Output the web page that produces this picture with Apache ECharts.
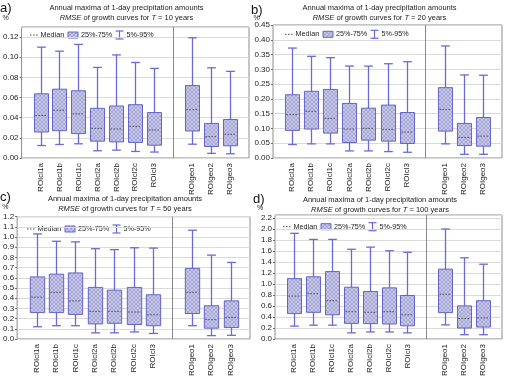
<!DOCTYPE html>
<html>
<head>
<meta charset="utf-8">
<script src="https://cdn.jsdelivr.net/npm/echarts@6/dist/echarts.min.js"></script>
<style>
  html, body { margin: 0; padding: 0; background: #fff; }
  #chart { width: 506px; height: 379px; }
</style>
</head>
<body>
<div id="chart"></div>
<script>
// category slots: blank pad, 7 ROIcl, blank separator slot, 3 ROIgeo, blank pad
const categories = [' ', 'ROIcl1a', 'ROIcl1b', 'ROIcl1c', 'ROIcl2a', 'ROIcl2b', 'ROIcl2c', 'ROIcl3',
  '  ', 'ROIgeo1', 'ROIgeo2', 'ROIgeo3', '   '];
const slotIndex = [1, 2, 3, 4, 5, 6, 7, 9, 10, 11];

// each row: [5%, 25%, median, 75%, 95%]
const rmse10 = [
  [0.0124, 0.0258, 0.0422, 0.0637, 0.110],
  [0.0134, 0.0271, 0.0474, 0.0683, 0.106],
  [0.0141, 0.0242, 0.0438, 0.0667, 0.1127],
  [0.0072, 0.0167, 0.0294, 0.0493, 0.0899],
  [0.0078, 0.0160, 0.0288, 0.0516, 0.1023],
  [0.0065, 0.0154, 0.0314, 0.0529, 0.0948],
  [0.0059, 0.0127, 0.0278, 0.0451, 0.0889],
  [0.0137, 0.0268, 0.0480, 0.0719, 0.1193],
  [0.0046, 0.0114, 0.0212, 0.0343, 0.0895],
  [0.0042, 0.0121, 0.0235, 0.0382, 0.0860]
];
const rmse20 = [
  [0.0456, 0.0934, 0.147, 0.214, 0.372],
  [0.0478, 0.098, 0.158, 0.2256, 0.344],
  [0.0478, 0.0843, 0.134, 0.232, 0.3395],
  [0.0239, 0.0524, 0.098, 0.1846, 0.311],
  [0.0239, 0.0604, 0.1002, 0.1686, 0.311],
  [0.0216, 0.057, 0.0968, 0.179, 0.319],
  [0.0194, 0.049, 0.0877, 0.1538, 0.3258],
  [0.0478, 0.091, 0.164, 0.238, 0.379],
  [0.0125, 0.042, 0.0695, 0.117, 0.281],
  [0.0125, 0.040, 0.074, 0.137, 0.280]
];
const rmse50 = [
  [0.12, 0.259, 0.41, 0.609, 1.031],
  [0.13, 0.259, 0.458, 0.636, 0.959],
  [0.13, 0.241, 0.374, 0.648, 0.953],
  [0.06, 0.148, 0.271, 0.506, 0.886],
  [0.06, 0.154, 0.271, 0.479, 0.877],
  [0.069, 0.142, 0.265, 0.506, 0.895],
  [0.054, 0.13, 0.238, 0.434, 0.892],
  [0.13, 0.25, 0.458, 0.693, 1.067],
  [0.033, 0.106, 0.19, 0.326, 0.823],
  [0.036, 0.112, 0.211, 0.374, 0.751]
];
const rmse100 = [
  [0.234, 0.462, 0.78, 1.098, 1.922],
  [0.251, 0.485, 0.824, 1.131, 1.811],
  [0.251, 0.44, 0.696, 1.226, 1.811],
  [0.111, 0.284, 0.496, 0.941, 1.632],
  [0.128, 0.279, 0.485, 0.863, 1.671],
  [0.128, 0.273, 0.496, 0.930, 1.604],
  [0.111, 0.24, 0.44, 0.791, 1.577],
  [0.256, 0.479, 0.813, 1.27, 2.0],
  [0.078, 0.2, 0.373, 0.602, 1.476],
  [0.078, 0.217, 0.384, 0.696, 1.36]
];
const returnPeriods = [10, 20, 50, 100];
const panelLetters = ['a)', 'b)', 'c)', 'd)'];

const FONT = 'Liberation Sans, Arial, sans-serif';
const boxBorder = '#6464c8';
const whiskerColor = '#6a6ad4';

// hatched lavender fill
const hatch = document.createElement('canvas');
hatch.width = 4; hatch.height = 4;
(function () {
  const c = hatch.getContext('2d');
  c.fillStyle = '#c8c8e8';
  c.fillRect(0, 0, 4, 4);
  c.strokeStyle = '#9c9cd0';
  c.lineWidth = 0.8;
  c.beginPath();
  c.moveTo(0, 4); c.lineTo(4, 0);
  c.moveTo(0, 0); c.lineTo(4, 4);
  c.stroke();
})();
const hatchFill = { image: hatch, repeat: 'repeat' };

const panels = [
  { data: rmse10, grid: { left: 16, top: 27, width: 233, height: 131 }, max: 0.13, interval: 0.02, digits: 2, hideMax: true,
    titleX: 126.5, titleY: 7.5, letter: [0, 8], pct: [5.5, 18.5], legend: [30, 35] },
  { data: rmse20, grid: { left: 273, top: 25, width: 230, height: 133 }, max: 0.45, interval: 0.05, digits: 2, hideMax: false,
    titleX: 379.5, titleY: 7.5, letter: [251, 10], pct: [256.7, 17.7], legend: [285, 34.3] },
  { data: rmse50, grid: { left: 13, top: 216.7, width: 237, height: 132.6 }, max: 1.2, interval: 0.1, digits: 1, hideMax: false,
    titleX: 125, titleY: 199.3, letter: [0, 197.5], pct: [5.3, 207], legend: [27, 229] },
  { data: rmse100, grid: { left: 275, top: 215, width: 228, height: 135 }, max: 2.255, interval: 0.2, digits: 1, hideMax: true,
    titleX: 380, titleY: 200, letter: [253, 199], pct: [260, 207.7], legend: [283, 226.7] }
];

function renderBox(params, api) {
  const x = api.value(0);
  const low = api.coord([x, api.value(1)]);
  const q1 = api.coord([x, api.value(2)]);
  const med = api.coord([x, api.value(3)]);
  const q3 = api.coord([x, api.value(4)]);
  const high = api.coord([x, api.value(5)]);
  const band = api.size([1, 0])[0];
  const bw = band * 0.74;
  const cw = band * 0.46;
  const cx = Math.round(low[0]) + 0.5;
  const wStyle = { stroke: whiskerColor, lineWidth: 1.3 };
  return {
    type: 'group',
    children: [
      { type: 'line', shape: { x1: cx, y1: high[1], x2: cx, y2: q3[1] }, style: wStyle },
      { type: 'line', shape: { x1: cx, y1: q1[1], x2: cx, y2: low[1] }, style: wStyle },
      { type: 'line', shape: { x1: cx - cw / 2, y1: high[1], x2: cx + cw / 2, y2: high[1] }, style: wStyle },
      { type: 'line', shape: { x1: cx - cw / 2, y1: low[1], x2: cx + cw / 2, y2: low[1] }, style: wStyle },
      { type: 'rect', shape: { x: cx - bw / 2, y: q3[1], width: bw, height: q1[1] - q3[1] },
        style: { fill: hatchFill, stroke: boxBorder, lineWidth: 1 } },
      { type: 'line', shape: { x1: cx - bw / 2 + 1, y1: med[1], x2: cx + bw / 2 - 1, y2: med[1] },
        style: { stroke: '#4a4a5a', lineWidth: 1, lineDash: [1.5, 1.5] } }
    ]
  };
}

function legendGroup(x, y) {
  const txt = { fill: '#222', fontSize: 7.2, fontFamily: FONT, verticalAlign: 'middle' };
  return {
    type: 'group', x: x, y: y, silent: true,
    children: [
      { type: 'line', shape: { x1: 0, y1: 0, x2: 8, y2: 0 }, style: { stroke: '#4a4a5a', lineWidth: 1, lineDash: [1.5, 1.5] } },
      { type: 'text', x: 10.6, y: 0, style: Object.assign({ text: 'Median' }, txt) },
      { type: 'rect', shape: { x: 38, y: -3, width: 10, height: 6 }, style: { fill: hatchFill, stroke: boxBorder, lineWidth: 1 } },
      { type: 'text', x: 51, y: 0, style: Object.assign({ text: '25%-75%' }, txt) },
      { type: 'line', shape: { x1: 89.5, y1: -4, x2: 89.5, y2: 4 }, style: { stroke: whiskerColor, lineWidth: 1.2 } },
      { type: 'line', shape: { x1: 85.5, y1: -4, x2: 93.5, y2: -4 }, style: { stroke: whiskerColor, lineWidth: 1.2 } },
      { type: 'line', shape: { x1: 85.5, y1: 4, x2: 93.5, y2: 4 }, style: { stroke: whiskerColor, lineWidth: 1.2 } },
      { type: 'text', x: 96.5, y: 0, style: Object.assign({ text: '5%-95%' }, txt) }
    ]
  };
}

const chart = echarts.init(document.getElementById('chart'), null, { renderer: 'canvas' });

const grids = [], xAxes = [], yAxes = [], series = [], graphics = [];

panels.forEach(function (p, i) {
  grids.push(Object.assign({ show: true, borderColor: '#8c8c8c', borderWidth: 1, backgroundColor: 'transparent' }, p.grid));
  xAxes.push({
    type: 'category', gridIndex: i, data: categories, boundaryGap: false,
    axisLine: { show: false }, axisTick: { show: false },
    axisLabel: { rotate: 90, fontSize: 8, fontFamily: FONT, color: '#222', margin: 5, interval: 0 },
    splitLine: { show: true, interval: function (idx) { return idx === 8; }, lineStyle: { color: '#888', width: 1 } }
  });
  yAxes.push({
    type: 'value', gridIndex: i, min: 0, max: p.max, interval: p.interval,
    axisLine: { show: false },
    axisTick: { show: true, length: 2, lineStyle: { color: '#666' } },
    axisLabel: { fontSize: 8, fontFamily: FONT, color: '#222', margin: 3, showMaxLabel: !p.hideMax,
      formatter: function (v) { return v.toFixed(p.digits); } },
    splitLine: { show: true, lineStyle: { color: '#dadada', width: 1 } }
  });
  series.push({
    type: 'custom', xAxisIndex: i, yAxisIndex: i,
    encode: { x: 0, y: [1, 2, 3, 4, 5] },
    renderItem: renderBox,
    data: p.data.map(function (r, k) { return [slotIndex[k]].concat(r); })
  });

  graphics.push({ type: 'text', x: p.titleX, y: p.titleY, silent: true,
    style: { text: 'Annual maxima of 1-day precipitation amounts', fill: '#222', fontSize: 7.5, fontFamily: FONT,
      align: 'center', verticalAlign: 'middle' } });
  graphics.push({ type: 'text', x: p.titleX, y: p.titleY + 10, silent: true,
    style: { text: '{i|RMSE} of growth curves for {i|T} = ' + returnPeriods[i] + ' years', fill: '#222',
      fontSize: 7.5, fontFamily: FONT, align: 'center', verticalAlign: 'middle',
      rich: { i: { fontStyle: 'italic', fontSize: 7.5, fontFamily: FONT, fill: '#222' } } } });
  graphics.push({ type: 'text', x: p.letter[0], y: p.letter[1], silent: true,
    style: { text: panelLetters[i], fill: '#111', fontSize: 13, fontFamily: FONT, verticalAlign: 'middle' } });
  graphics.push({ type: 'text', x: p.pct[0], y: p.pct[1], silent: true,
    style: { text: '%', fill: '#222', fontSize: 7, fontFamily: FONT, align: 'center', verticalAlign: 'middle' } });
  graphics.push(legendGroup(p.legend[0], p.legend[1]));
});

chart.setOption({
  backgroundColor: '#fff',
  animation: false,
  grid: grids,
  xAxis: xAxes,
  yAxis: yAxes,
  series: series,
  graphic: graphics
});
</script>
</body>
</html>
